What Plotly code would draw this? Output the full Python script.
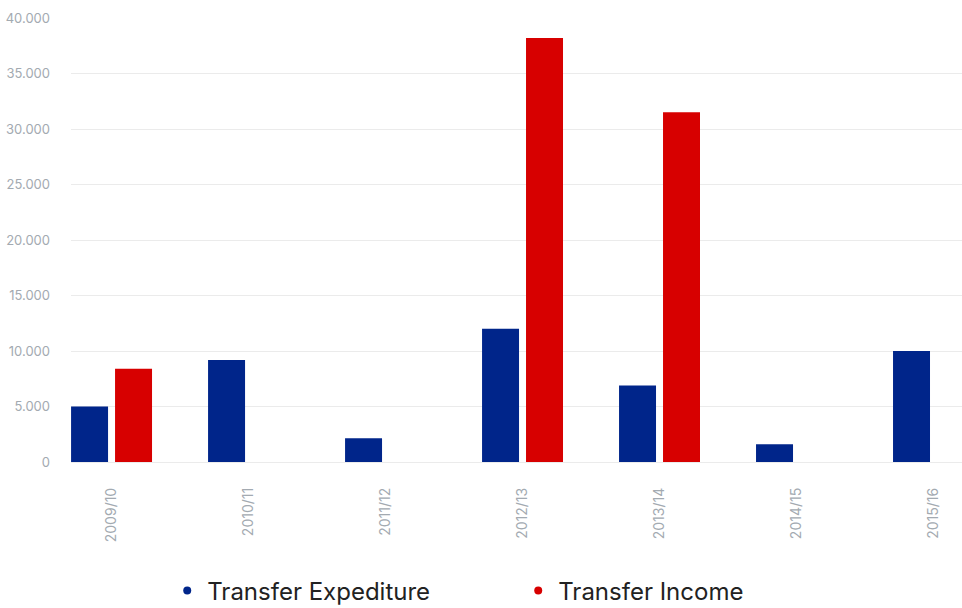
import plotly.graph_objects as go

# Season labels and transfer totals
seasons = ["2009/10", "2010/11", "2011/12", "2012/13", "2013/14", "2014/15", "2015/16"]
expenditure = [5000, 9200, 2150, 12000, 6900, 1600, 10000]
income = [8400, None, None, 38200, 31500, None, None]
series_names = ["Transfer Expediture", "Transfer Income"]

BLUE = "#00258a"
RED = "#d70000"
GRID = "#ebebeb"
TICK = "#a3aab1"
FONT = "Inter, Open Sans, sans-serif"

fig = go.Figure()
for name, vals, col in zip(series_names, [expenditure, income], [BLUE, RED]):
    fig.add_trace(go.Bar(x=seasons, y=vals, name=name, showlegend=False,
                         marker=dict(color=col, line=dict(width=0))))
    # round legend swatch
    fig.add_trace(go.Scatter(x=[None], y=[None], mode="markers", name=name,
                             marker=dict(color=col, size=8, symbol="circle")))

fig.update_layout(
    width=962, height=608,
    margin=dict(l=71, r=0, t=18, b=146, pad=0, autoexpand=False),
    paper_bgcolor="white", plot_bgcolor="white",
    barmode="group", bargap=0.358, bargroupgap=0.159,
    separators=",.",
    font=dict(family=FONT, color=TICK),
    showlegend=True,
    legend=dict(orientation="h", x=0.108, xanchor="left",
                yref="container", y=0.028, yanchor="middle",
                font=dict(size=24, color="#222222", family=FONT),
                itemsizing="trace", entrywidth=306, itemwidth=30),
    xaxis=dict(type="category", range=[-0.296, 6.208], showgrid=False,
               showline=False, zeroline=False, tickangle=-90, automargin=False,
               ticklabelstandoff=22, ticks="",
               tickfont=dict(size=14, color=TICK, family=FONT)),
    yaxis=dict(range=[0, 40000], dtick=5000, tick0=0, showgrid=True, automargin=False,
               gridcolor=GRID, gridwidth=1, zeroline=True, zerolinecolor=GRID,
               zerolinewidth=1, showline=False, separatethousands=True,
               tickformat=",d", ticklabelstandoff=20,
               tickfont=dict(size=13, color=TICK, family=FONT)),
)

fig.write_html("out.html")
